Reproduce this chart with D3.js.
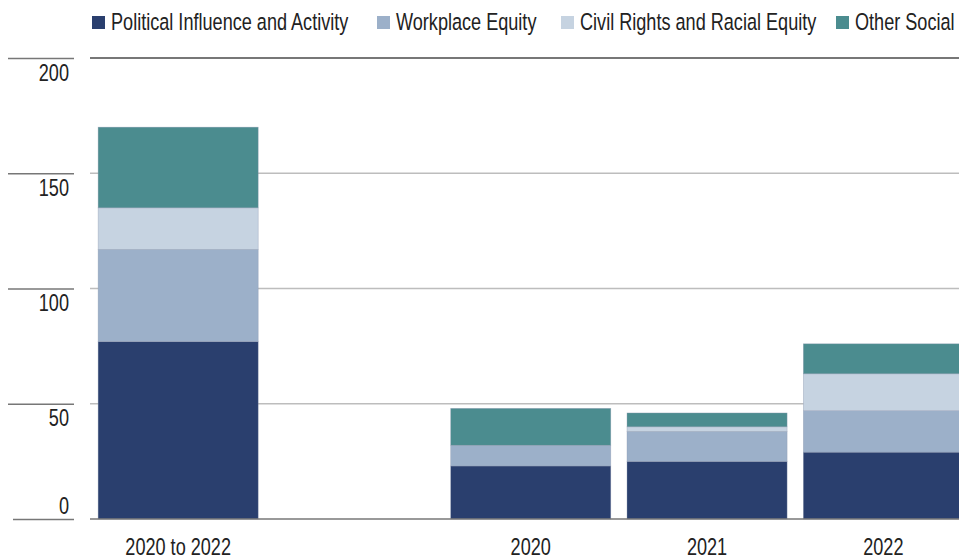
<!DOCTYPE html>
<html>
<head>
<meta charset="utf-8">
<script src="https://cdn.jsdelivr.net/npm/d3@7"></script>
<style>
  body { margin: 0; background: #fff; }
  svg { display: block; font-family: "Liberation Sans", Arial, sans-serif; }
</style>
</head>
<body>
<script>
(function (d3) {
  "use strict";

  /***** Data *****/
  var categories = ["2020 to 2022", "", "2020", "2021", "2022"];
  var seriesNames = ["Political Influence and Activity", "Workplace Equity", "Civil Rights and Racial Equity", "Other Social"];
  var political = [77, 0, 23, 25, 29];
  var workplace = [40, 0, 9, 13, 18];
  var civilRights = [18, 0, 0, 2, 16];
  var otherSocial = [35, 0, 16, 6, 13];
  var yTicks = [0, 50, 100, 150, 200];

  var colors = ["#2a3f6e", "#9cb0c9", "#c6d3e1", "#4b8c8f"];

  /***** Configuration *****/
  var W = 959, H = 558;
  var plotLeft = 90, plotRight = 971.5;
  var y0 = 519, yTop = 58;
  var fontSize = 23.5, squeeze = 0.77;   // fake a condensed face

  function condensed(sel, fx, fy) {
    sel.attr("transform", function (d, i) {
      return "translate(" + fx(d, i) + "," + fy(d, i) + ") scale(" + squeeze + ",1)";
    })
      .attr("x", 0).attr("y", 0)
      .attr("fill", "#222")
      .style("font-size", fontSize + "px");
  }

  var rows = categories.map(function (c, i) {
    return {
      cat: c,
      "Political Influence and Activity": political[i],
      "Workplace Equity": workplace[i],
      "Civil Rights and Racial Equity": civilRights[i],
      "Other Social": otherSocial[i]
    };
  });

  var x = d3.scaleBand().domain(categories).range([plotLeft, plotRight])
    .paddingInner(0.092).paddingOuter(0.046);
  var y = d3.scaleLinear().domain([0, 200]).range([y0, yTop]);
  var color = d3.scaleOrdinal().domain(seriesNames).range(colors);

  var svg = d3.select("body").append("svg")
    .attr("width", W).attr("height", H);

  /***** Gridlines *****/
  svg.append("g").selectAll("line")
    .data(yTicks.filter(function (t) { return t > 0 && t < 200; }))
    .join("line")
    .attr("x1", plotLeft).attr("x2", W)
    .attr("y1", function (d) { return y(d); })
    .attr("y2", function (d) { return y(d); })
    .attr("stroke", "#bdbdbd").attr("stroke-width", 1.5);

  // top border
  svg.append("line")
    .attr("x1", plotLeft).attr("x2", W)
    .attr("y1", y(200)).attr("y2", y(200))
    .attr("stroke", "#777").attr("stroke-width", 2);

  /***** Bars *****/
  var layers = d3.stack().keys(seriesNames)(rows);

  svg.append("g").selectAll("g")
    .data(layers)
    .join("g")
    .attr("fill", function (d) { return color(d.key); })
    .selectAll("rect")
    .data(function (d) { return d.filter(function (p) { return p[1] - p[0] > 0; }); })
    .join("rect")
    .attr("x", function (d) { return x(d.data.cat); })
    .attr("width", x.bandwidth())
    .attr("y", function (d) { return y(d[1]); })
    .attr("height", function (d) { return y(d[0]) - y(d[1]); })
    .attr("stroke", "#8f9bb0").attr("stroke-width", 0.6).attr("stroke-opacity", 0.6);

  // zero line
  svg.append("line")
    .attr("x1", plotLeft).attr("x2", W)
    .attr("y1", y0).attr("y2", y0)
    .attr("stroke", "#777").attr("stroke-width", 1.5);

  /***** Y axis *****/
  var yAxis = d3.axisRight(y).tickValues(yTicks).tickSize(66).tickPadding(0);
  var gy = svg.append("g").attr("transform", "translate(8,0)").call(yAxis);
  gy.select(".domain").remove();
  gy.selectAll(".tick line").attr("stroke", "#777").attr("stroke-width", 1.5);
  gy.selectAll(".tick").filter(function (d) { return d === 0; })
    .select("line").attr("x1", 5);
  gy.selectAll(".tick text")
    .attr("dy", null)
    .attr("text-anchor", "end")
    .style("font-family", "inherit")
    // labels hang below their line, except 0 which sits above the baseline
    .call(condensed, function () { return 61; }, function (d) { return d === 0 ? -6 : 22; });

  /***** X axis labels *****/
  svg.append("g").selectAll("text")
    .data(categories.filter(function (c) { return c !== ""; }))
    .join("text")
    .attr("text-anchor", "middle")
    .text(function (d) { return d; })
    .call(condensed, function (d) { return x(d) + x.bandwidth() / 2; }, function () { return 555; });

  /***** Legend *****/
  var legendX = [92, 377, 561, 836];
  var legend = svg.append("g").selectAll("g")
    .data(seriesNames)
    .join("g")
    .attr("transform", function (d, i) { return "translate(" + legendX[i] + ",0)"; });
  legend.append("rect")
    .attr("x", 0).attr("y", 16).attr("width", 13).attr("height", 13)
    .attr("fill", function (d) { return color(d); });
  legend.append("text")
    .text(function (d) { return d; })
    .call(condensed, function () { return 19; }, function () { return 30; });

})(d3);
</script>
</body>
</html>
